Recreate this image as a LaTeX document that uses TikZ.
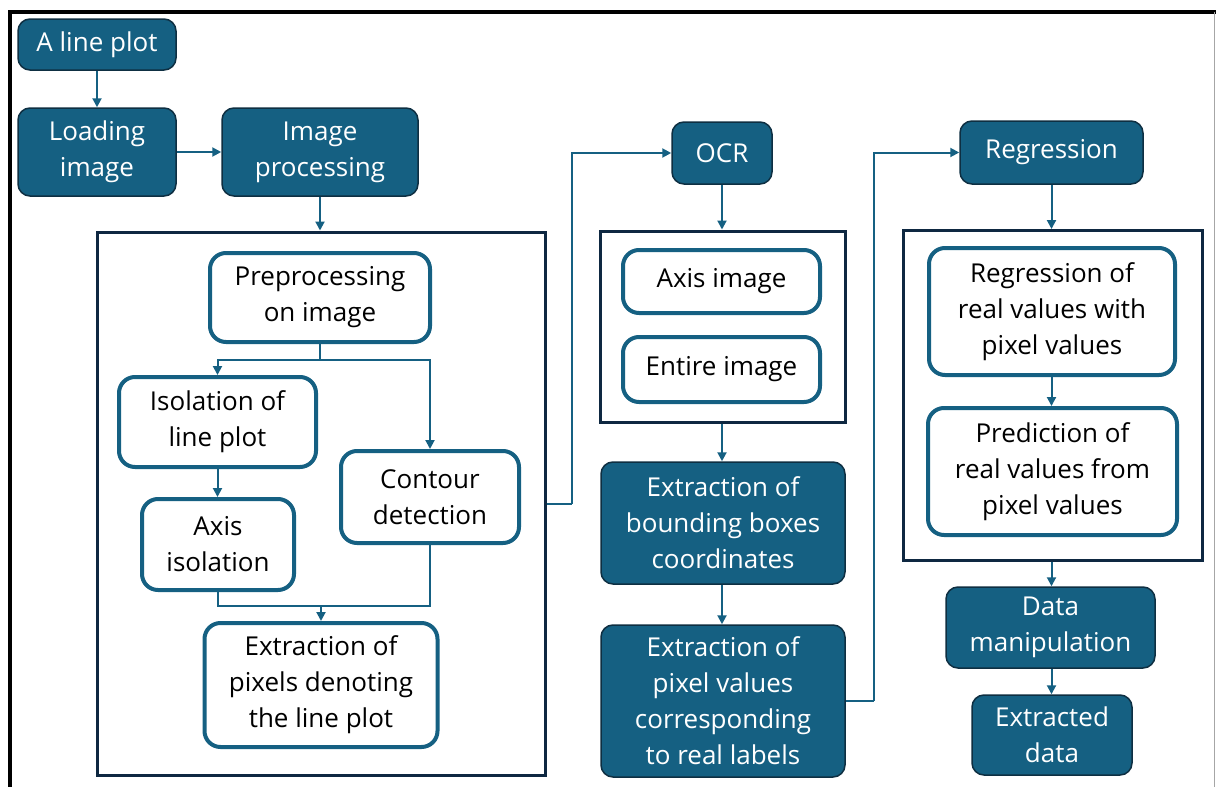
\documentclass[tikz,border=0pt]{standalone}
\usepackage{fontspec}
\setmainfont{Open Sans}
\usetikzlibrary{arrows.meta}
\definecolor{cblue}{HTML}{156082}
\definecolor{cdark}{HTML}{0E2F42}
\definecolor{cnavy}{HTML}{0E2841}
\tikzset{
  filledbox/.style={draw=cdark, line width=1.5pt, fill=cblue, rounded corners=12pt,
    text=white, align=center, inner sep=0pt, font=\fontsize{26}{36}\selectfont},
  outlinebox/.style={draw=cblue, line width=4pt, fill=white, rounded corners=16pt,
    text=black, align=center, inner sep=0pt, font=\fontsize{26}{36}\selectfont},
  container/.style={draw=cnavy, line width=3pt, inner sep=0pt},
  arr/.style={draw=cblue, line width=2pt, -{Triangle[length=9pt,width=9pt]}},
  ln/.style={draw=cblue, line width=2pt},
}
\newcommand{\bx}[6]{\node[#1, minimum width=#4pt, minimum height=#5pt] (#2) at #3 {#6};}
\begin{document}
\begin{tikzpicture}[x=1pt,y=-1pt]
\useasboundingbox (0,0) rectangle (1216,787);
\fill[white] (0,0) rectangle (1216,787);
% outer frame
\draw[black, line width=4pt] (9.5,787) -- (9.5,12) -- (1216,12);
\draw[gray!70, line width=1.2pt] (1214.5,12) -- (1214.5,787);

% containers
\node[container, minimum width=448pt, minimum height=543pt] (boxL) at (321,503.5) {};
\node[container, minimum width=245pt, minimum height=191pt] (boxM) at (723,326.5) {};
\node[container, minimum width=299pt, minimum height=330pt] (boxR) at (1052.5,395.5) {};

% left column
\bx{filledbox}{lp}{(97,44.5)}{158}{51}{A line plot}
\bx{filledbox}{load}{(97,152)}{158}{88}{Loading\\image}
\bx{filledbox}{imgp}{(320,152)}{196}{88}{Image\\processing}
\bx{outlinebox}{pre}{(320,297.5)}{220}{89}{Preprocessing\\on image}
\bx{outlinebox}{iso}{(217.5,422)}{197}{90}{Isolation of\\line plot}
\bx{outlinebox}{cont}{(430,497)}{178}{92}{Contour\\detection}
\bx{outlinebox}{axis}{(218,544.5)}{152}{91}{Axis\\isolation}
\bx{outlinebox}{extr}{(321,685)}{233}{124}{Extraction of\\pixels denoting\\the line plot}

% middle column
\bx{filledbox}{ocr}{(722,153)}{100}{62}{OCR}
\bx{outlinebox}{axim}{(721.5,281.5)}{197}{63}{Axis image}
\bx{outlinebox}{entire}{(721.5,369.5)}{197}{65}{Entire image}
\bx{filledbox}{bbox}{(723,523)}{244}{122}{Extraction of\\bounding boxes\\coordinates}
\bx{filledbox}{pixv}{(723,701)}{244}{152}{Extraction of\\pixel values\\corresponding\\to real labels}

% right column
\bx{filledbox}{reg}{(1051.5,152.5)}{183}{63}{Regression}
\bx{outlinebox}{regv}{(1052,311.5)}{246}{127}{Regression of\\real values with\\pixel values}
\bx{outlinebox}{pred}{(1052.5,471.5)}{249}{127}{Prediction of\\real values from\\pixel values}
\bx{filledbox}{dm}{(1050.5,627.5)}{209}{81}{Data\\manipulation}
\bx{filledbox}{ed}{(1052,735)}{160}{80}{Extracted\\data}

% junctions
\coordinate (j1) at (320,360);
\coordinate (j2) at (321,606);
\coordinate (k1) at (572,503.5);
\coordinate (k2) at (874,701);

% connectors
\draw[arr] (lp.south) -- (load.north);
\draw[arr] (load.east) -- (imgp.west);
\draw[arr] (imgp.south) -- (imgp.south |- boxL.north);
\draw[ln] (pre.south) -- (j1);
\draw[arr] (j1) -| (iso.north);
\draw[arr] (j1) -| (cont.north);
\draw[arr] (iso.south) -- (iso.south |- axis.north);
\draw[ln] (axis.south) |- (j2);
\draw[ln] (cont.south) |- (j2);
\draw[arr] (j2) -- (j2 |- extr.north);
\draw[ln] (boxL.east) -- (k1);
\draw[arr] (k1) |- (ocr.west);
\draw[arr] (ocr.south) -- (ocr.south |- boxM.north);
\draw[arr] (boxM.south -| ocr.south) -- (ocr.south |- bbox.north);
\draw[arr] (bbox.south -| ocr.south) -- (ocr.south |- pixv.north);
\draw[ln] (pixv.east) -- (k2);
\draw[arr] (k2) |- (reg.west);
\draw[arr] (reg.south) -- (reg.south |- boxR.north);
\draw[arr] (regv.south -| reg.south) -- (reg.south |- pred.north);
\draw[arr] (boxR.south -| reg.south) -- (reg.south |- dm.north);
\draw[arr] (dm.south -| reg.south) -- (reg.south |- ed.north);
\end{tikzpicture}
\end{document}
